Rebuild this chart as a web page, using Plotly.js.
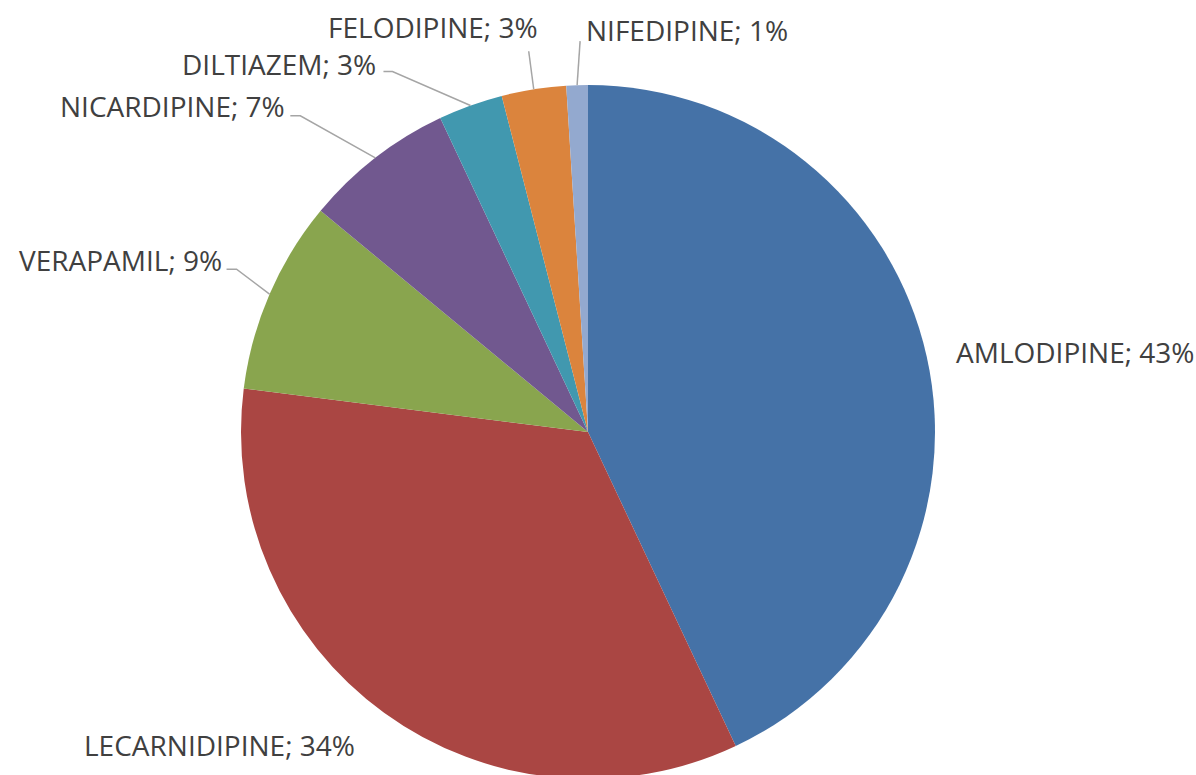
<!DOCTYPE html>
<html><head><meta charset="utf-8">
<script src="https://cdn.plot.ly/plotly-3.0.1.min.js"></script>
<style>html,body{margin:0;padding:0;overflow:hidden;background:#fff}</style>
</head><body><div id="chart" style="width:1196px;height:779px"></div>
<script>
const labels = ['AMLODIPINE','LECARNIDIPINE','VERAPAMIL','NICARDIPINE','DILTIAZEM','FELODIPINE','NIFEDIPINE'];
const values = [43,34,9,7,3,3,1];
const colors = ['#4572A7','#AA4643','#89A54E','#71588F','#4198AF','#DB843D','#93A9CF'];

const W=1196,H=779, M={l:0,r:20,t:85,b:0};
const pw=W-M.l-M.r, ph=H-M.t-M.b;
const cx=M.l+pw/2, cy=M.t+ph/2, R=Math.min(pw,ph)/2;
const px2x = p=>(p-M.l)/pw, py2y = p=>(H-M.b-p)/ph;

// label placement relative to slice edge mid-point (style only)
const labelLayout = [
 {line:false, tx:27, ty:-4, anchor:'left'},
 {line:false, tx:-27, ty:32, anchor:'right'},
 {line:true, ex:-33, ey:-25, hx:-10, tx:-3, ty:-9, anchor:'right'},
 {line:true, ex:-75, ey:-42, hx:-10, tx:-3, ty:-10, anchor:'right'},
 {line:true, ex:-78, ey:-34, hx:-9, tx:-5, ty:-8, anchor:'right'},
 {line:true, ex:-5, ey:-38, hx:0, tx:11, ty:-24, anchor:'right'},
 {line:true, ex:3, ey:-44, hx:0, tx:4, ty:-11, anchor:'left'}
];

const total = values.reduce((a,b)=>a+b,0);
const annotations=[], shapes=[];
let cum=0;
values.forEach((v,i)=>{
  const f=(cum+v/2)/total; cum+=v;
  const th=2*Math.PI*f;
  const ex=cx+R*Math.sin(th), ey=cy-R*Math.cos(th);
  const L=labelLayout[i];
  let ax, ay;
  if(L.line){
    const bx=ex+L.ex, by=ey+L.ey, hx=bx+L.hx;
    shapes.push({type:'path', xref:'paper', yref:'paper',
      path:`M ${px2x(ex)},${py2y(ey)} L ${px2x(bx)},${py2y(by)} L ${px2x(hx)},${py2y(by)}`,
      line:{color:'#a5a5a5', width:1.5}});
    ax=hx+L.tx; ay=by+L.ty;
  } else { ax=ex+L.tx; ay=ey+L.ty; }
  annotations.push({xref:'paper', yref:'paper', x:px2x(ax), y:py2y(ay), showarrow:false,
    xanchor:L.anchor, yanchor:'middle',
    text:`${labels[i]}; ${Math.round(v/total*100)}%`,
    font:{family:'Open Sans', size:28, color:'#404040'}});
});

const data=[{type:'pie', labels:labels, values:values, sort:false, direction:'clockwise', rotation:0,
  marker:{colors:colors, line:{color:'#ffffff', width:0}}, textinfo:'none', hoverinfo:'skip', showlegend:false}];
const layout={width:W, height:H, margin:M, paper_bgcolor:'#fff', plot_bgcolor:'#fff',
  showlegend:false, annotations:annotations, shapes:shapes};
Plotly.newPlot('chart', data, layout, {displayModeBar:false, staticPlot:true});
</script></body></html>
